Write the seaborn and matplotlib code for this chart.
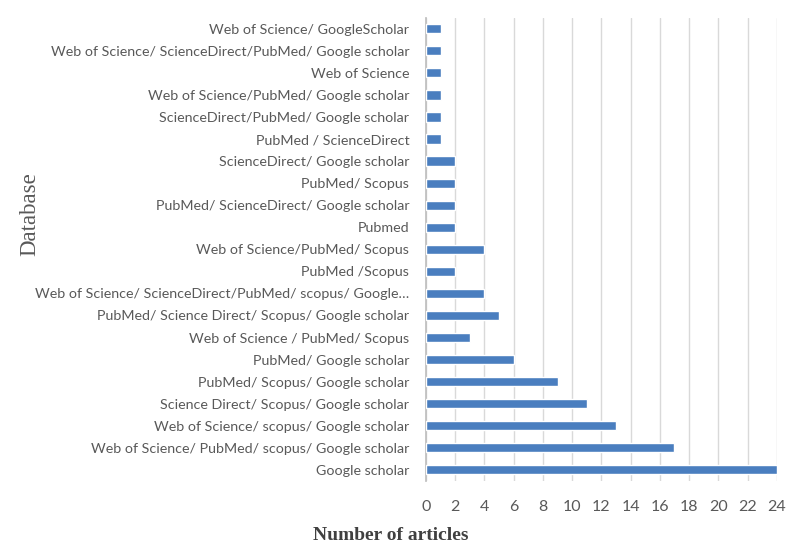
import matplotlib.pyplot as plt
import pandas as pd
import seaborn as sns

databases = [
    "Web of Science/ GoogleScholar",
    "Web of Science/ ScienceDirect/PubMed/ Google scholar",
    "Web of Science",
    "Web of Science/PubMed/ Google scholar",
    "ScienceDirect/PubMed/ Google scholar",
    "PubMed / ScienceDirect",
    "ScienceDirect/ Google scholar",
    "PubMed/ Scopus",
    "PubMed/ ScienceDirect/ Google scholar",
    "Pubmed",
    "Web of Science/PubMed/ Scopus",
    "PubMed /Scopus",
    "Web of Science/ ScienceDirect/PubMed/ scopus/ Google\u2026",
    "PubMed/ Science Direct/ Scopus/ Google scholar",
    "Web of Science / PubMed/ Scopus",
    "PubMed/ Google scholar",
    "PubMed/ Scopus/ Google scholar",
    "Science Direct/ Scopus/ Google scholar",
    "Web of Science/ scopus/ Google scholar",
    "Web of Science/ PubMed/ scopus/ Google scholar",
    "Google scholar",
]
articles = [1, 1, 1, 1, 1, 1, 2, 2, 2, 2, 4, 2, 4, 5, 3, 6, 9, 11, 13, 17, 24]
x_ticks = list(range(0, 25, 2))

df = pd.DataFrame({"Database": databases, "Articles": articles})

sns.set_theme(style="white")
plt.rcParams["font.family"] = ["Lato", "DejaVu Sans"]

fig = plt.figure(figsize=(8, 5.54), dpi=100)
ax = fig.add_axes([0.5325, 0.132, 0.4385, 0.836])

sns.barplot(data=df, y="Database", x="Articles", orient="h", color="#4a7ebf",
            saturation=1, width=0.42, ax=ax, zorder=3)

ax.set_xlim(0, 24)
ax.set_xticks(x_ticks)
ax.set_ylim(len(databases) - 0.5, -0.5)
ax.grid(axis="x", color="#d9d9d9", linewidth=1, zorder=0)
for side in ["top", "right", "bottom"]:
    ax.spines[side].set_visible(False)
ax.spines["left"].set_color("#bfbfbf")
ax.tick_params(axis="x", labelsize=11.5, colors="#595959", length=0, pad=14)
ax.tick_params(axis="y", labelsize=10.3, colors="#595959", length=0, pad=12)

ax.set_xlabel("Number of articles", family="Liberation Serif", fontsize=14,
              fontweight="bold", color="#404040")
ax.set_ylabel("")
fig.text(0.0375, 0.614, "Database", family="Liberation Serif", fontsize=16.5,
         color="#595959", rotation=90, ha="center", va="center")
ax.xaxis.set_label_coords(0.488 / 0.4385 - 0.5325 / 0.4385, -0.10)

fig.savefig("out.png", dpi=100)
